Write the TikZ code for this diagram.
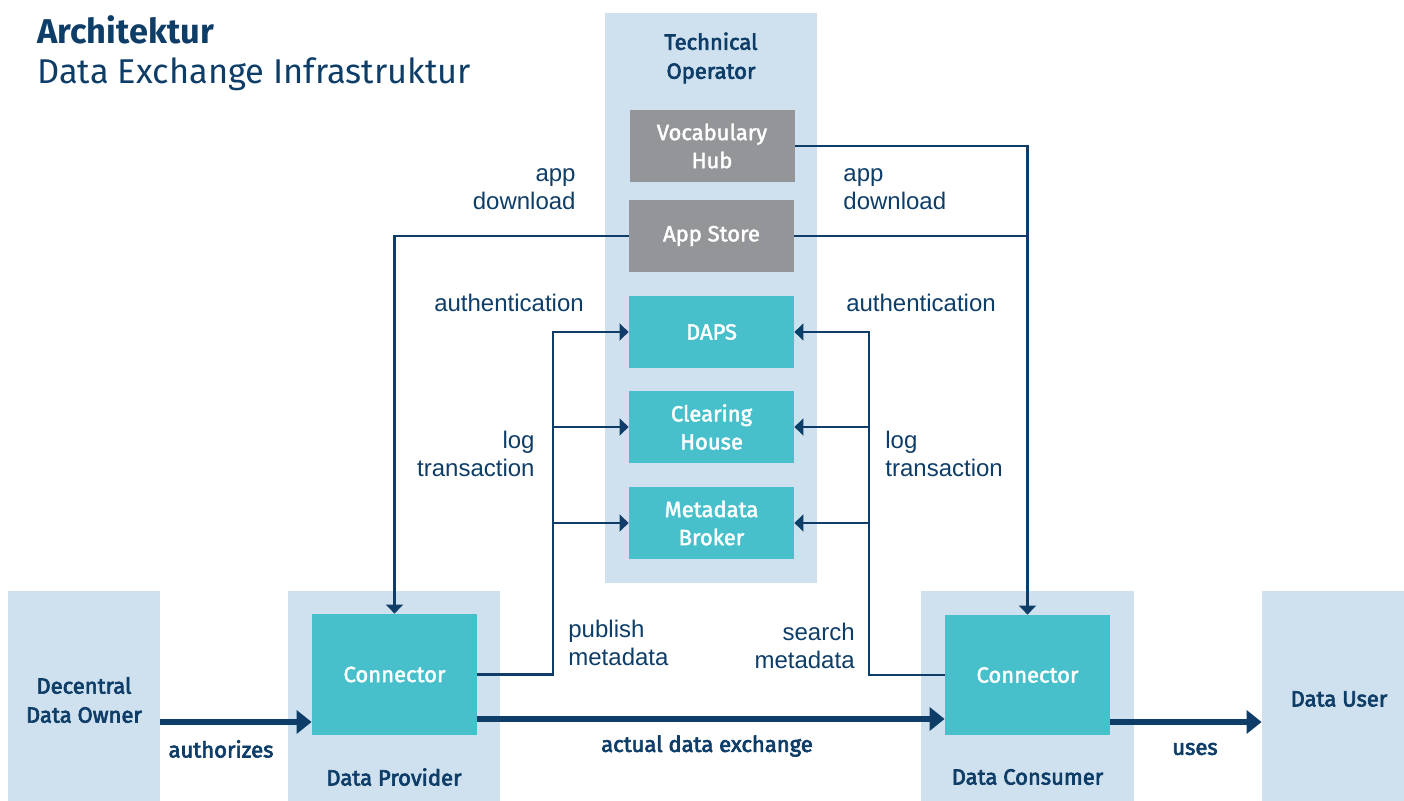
\documentclass[tikz,border=0pt]{standalone}
\usepackage{fontspec}
\setmainfont{Fira Sans}
\newfontfamily\labelfont{Liberation Sans}
\newfontfamily\medfont[FakeBold=2]{Fira Sans}
\newfontfamily\semifont[FakeBold=3]{Fira Sans}
\usetikzlibrary{arrows.meta}

\definecolor{navy}{RGB}{14,61,104}
\definecolor{paleblue}{RGB}{207,225,238}
\definecolor{idsteal}{RGB}{72,192,204}
\definecolor{hubgray}{RGB}{147,149,152}

\tikzset{
  bgbox/.style={fill=paleblue, draw=none, inner sep=0pt},
  service/.style={fill=idsteal, text=white, inner sep=0pt, align=center,
    minimum width=82.5pt, minimum height=36pt, font=\medfont\fontsize{11}{14}\selectfont},
  grayservice/.style={service, fill=hubgray},
  link/.style={draw=navy, line width=1.3pt},
  linkarrow/.style={link, -{Triangle[length=4.5pt,width=8.5pt]}},
  flow/.style={draw=navy, line width=3pt, -{Triangle[length=7.5pt,width=11.5pt]}},
  lbl/.style={text=navy, inner sep=0pt, font=\labelfont\fontsize{12}{14}\selectfont},
  boldlbl/.style={text=navy, inner sep=0pt, font=\semifont\fontsize{11}{14.5}\selectfont, align=center},
}

\begin{document}
\begin{tikzpicture}[x=0.5pt,y=0.5pt,yscale=-1,xscale=1]
\useasboundingbox (0,0) rectangle (1404,801);

%Title
\node[anchor=west, text=navy, inner sep=0pt, font=\bfseries\fontsize{17.2}{21}\selectfont] (title) at (37,30) {Architektur};
\node[anchor=west, text=navy, inner sep=0pt, font=\fontsize{17.2}{21}\selectfont] (subtitle) at (37,74) {Data Exchange Infrastruktur};

%Shape: background boxes
\node[bgbox, minimum width=106pt, minimum height=285pt] (techbg) at (711,298) {};
\node[bgbox, minimum width=76pt, minimum height=105pt] (ownerbg) at (84,696) {};
\node[bgbox, minimum width=106pt, minimum height=105pt] (provbg) at (394,696) {};
\node[bgbox, minimum width=106.5pt, minimum height=105pt] (consbg) at (1027.5,696) {};
\node[bgbox, minimum width=71pt, minimum height=105pt] (userbg) at (1333,696) {};

% Text Node
\node[boldlbl] (techlbl) at (711,58) {Technical\\Operator};
\node[boldlbl] (ownerlbl) at (84,700) {Decentral\\Data Owner};
\node[boldlbl] (provlbl) at (394,777) {Data Provider};
\node[boldlbl] (conslbl) at (1027.5,777) {Data Consumer};
\node[boldlbl] (userlbl) at (1339,699) {Data User};

%Shape: services of the operator
\node[grayservice] (vocab) at (712,146) {Vocabulary\\Hub};
\node[grayservice] (appstore) at (711.5,236) {App Store};
\node[service] (daps) at (711.5,332) {DAPS};
\node[service] (clearing) at (711.5,427) {Clearing\\House};
\node[service] (broker) at (711.5,523) {Metadata\\Broker};

%Shape: connectors
\node[service, minimum height=60.5pt] (provconn) at (394.5,674.5) {Connector};
\node[service, minimum height=60pt] (consconn) at (1027.5,675) {Connector};

%Straight Lines: app download
\draw[linkarrow] (appstore.west) -| (provconn.north);
\draw[linkarrow] (vocab.east) -| (consconn.north);
\draw[link] (appstore.east) -- (appstore.east -| consconn.north);

%Straight Lines: provider side bus
\coordinate (lbus) at (553,0);
\draw[linkarrow] (provconn.east) -| (lbus |- daps.west) -- (daps.west);
\draw[linkarrow] (lbus |- clearing.west) -- (clearing.west);
\draw[linkarrow] (lbus |- broker.west) -- (broker.west);

%Straight Lines: consumer side bus
\coordinate (rbus) at (869,0);
\draw[linkarrow] (consconn.west) -| (rbus |- daps.east) -- (daps.east);
\draw[linkarrow] (rbus |- clearing.east) -- (clearing.east);
\draw[linkarrow] (rbus |- broker.east) -- (broker.east);

%Straight Lines: data flow
\coordinate (ownout) at (160,722);
\coordinate (provout) at (477,719);
\coordinate (consout) at (1110,722);
\draw[flow] (ownout) -- (provconn.west |- ownout);
\draw[flow] (provout) -- (consconn.west |- provout);
\draw[flow] (consout) -- (userbg.west |- consout);

% Text Node
\node[lbl, anchor=east, align=right] (appdl1) at (576,189) {app\\download};
\node[lbl, anchor=west, align=left] (appdl2) at (843,189) {app\\download};
\node[lbl] (auth1) at (509,303) {authentication};
\node[lbl] (auth2) at (921,303) {authentication};
\node[lbl, anchor=east, align=right] (log1) at (535,454) {log\\transaction};
\node[lbl, anchor=west, align=left] (log2) at (885,454) {log\\transaction};
\node[lbl, anchor=west, align=left] (publish) at (568,643) {publish\\metadata};
\node[lbl, anchor=east, align=right] (search) at (855,646) {search\\metadata};
\node[boldlbl] (authorizes) at (221,749) {authorizes};
\node[boldlbl] (exchange) at (707,746) {actual data exchange};
\node[boldlbl] (uses) at (1195,749) {uses};

\end{tikzpicture}
\end{document}
